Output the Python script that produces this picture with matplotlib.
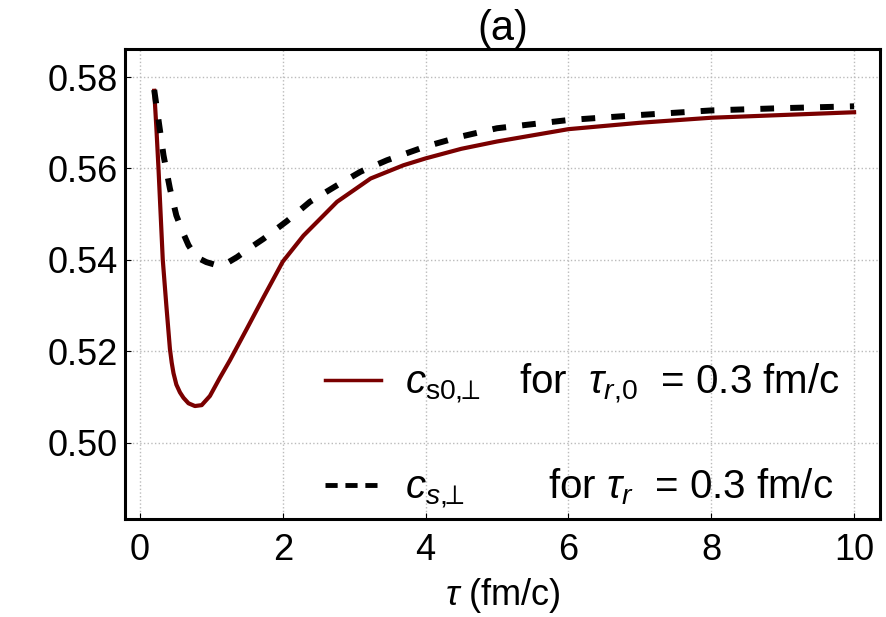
import numpy as np
import matplotlib.pyplot as plt
from matplotlib.lines import Line2D

plt.rcParams['font.family'] = ['Liberation Sans', 'DejaVu Sans']
plt.rcParams['mathtext.fontset'] = 'custom'
plt.rcParams['mathtext.rm'] = 'Liberation Sans'
plt.rcParams['mathtext.it'] = 'Liberation Sans:italic'
plt.rcParams['mathtext.sf'] = 'Liberation Sans'

# c_s0,perp  (tau_r,0 = 0.3 fm/c)
tau_solid = [0.2, 0.23, 0.26, 0.29, 0.32, 0.37, 0.42, 0.445, 0.47, 0.51,
             0.56, 0.61, 0.68, 0.77, 0.865, 0.98, 1.12, 1.26, 1.5, 1.73,
             2.0, 2.29, 2.5, 2.76, 3.0, 3.23, 3.5, 3.69, 4.0, 4.5, 5.0,
             6.0, 7.0, 8.0, 9.0, 10.0]
cs_solid = [0.5770, 0.5690, 0.5600, 0.5500, 0.5400, 0.5300, 0.5205, 0.5175,
            0.5152, 0.5127, 0.5110, 0.5098, 0.5086, 0.5080, 0.5082, 0.5102,
            0.5142, 0.5180, 0.5250, 0.5318, 0.5396, 0.5453, 0.5486, 0.5527,
            0.5553, 0.5578, 0.5595, 0.5607, 0.5622, 0.5643, 0.5659, 0.5686,
            0.5700, 0.5711, 0.5717, 0.5723]

# c_s,perp  (tau_r = 0.3 fm/c)
tau_dash = [0.2, 0.26, 0.33, 0.42, 0.51, 0.61, 0.68, 0.79, 0.93, 1.08,
            1.22, 1.36, 1.54, 1.73, 2.06, 2.38, 2.76, 3.09, 3.46, 4.0, 4.5,
            5.0, 6.0, 7.0, 8.0, 9.0, 10.0]
cs_dash = [0.5772, 0.5706, 0.5629, 0.5556, 0.5497, 0.5457, 0.5432, 0.5406,
           0.5395, 0.5388, 0.5393, 0.5406, 0.5426, 0.5446, 0.5485, 0.5527,
           0.5563, 0.5593, 0.5618, 0.5648, 0.5670, 0.5688, 0.5706, 0.5717,
           0.5727, 0.5732, 0.5736]

fig = plt.figure(figsize=(8.86, 6.17), dpi=100)
ax = fig.add_axes([0.141, 0.159, 0.852, 0.762])

ax.plot(tau_solid, cs_solid, color='#7a0000', lw=3.0)
ax.plot(tau_dash, cs_dash, color='black', lw=4.3, dashes=(2.3, 2.7))

ax.set_xlim(-0.21, 10.36)
ax.set_ylim(0.4833, 0.5862)
ax.set_xticks([0, 2, 4, 6, 8, 10])
ax.set_yticks([0.50, 0.52, 0.54, 0.56, 0.58])
ax.set_yticklabels(['0.50', '0.52', '0.54', '0.56', '0.58'])
ax.tick_params(direction='in', length=4, width=0.8, labelsize=26)
ax.tick_params(axis='y', pad=5)
ax.tick_params(axis='x', pad=10)
ax.grid(True, linestyle=':', color='#bbbbbb', lw=1)
for s in ax.spines.values():
    s.set_linewidth(2.2)

ax.set_title('(a)', fontsize=30, pad=1)
ax.set_xlabel(r'$\tau$ (fm/c)', fontsize=26, labelpad=6)

# legend entries
h_solid = Line2D([], [], color='#7a0000', lw=2.5)
h_dash = Line2D([], [], color='black', lw=3.5, dashes=(2.5, 1.6))
labels = [r'$c_{\mathrm{s0},\!\!\!\perp}$   for  $\tau_{r,\!0}$  = 0.3 fm/c',
          r'$c_{s,\!\!\!\perp}$       for $\tau_r$  = 0.3 fm/c']
ax.legend([h_solid, h_dash], labels, loc='lower right',
          bbox_to_anchor=(0.995, -0.06), frameon=False,
          fontsize=29, handlelength=1.4, handletextpad=0.6,
          labelspacing=1.5)

fig.savefig('out.png', dpi=100)
